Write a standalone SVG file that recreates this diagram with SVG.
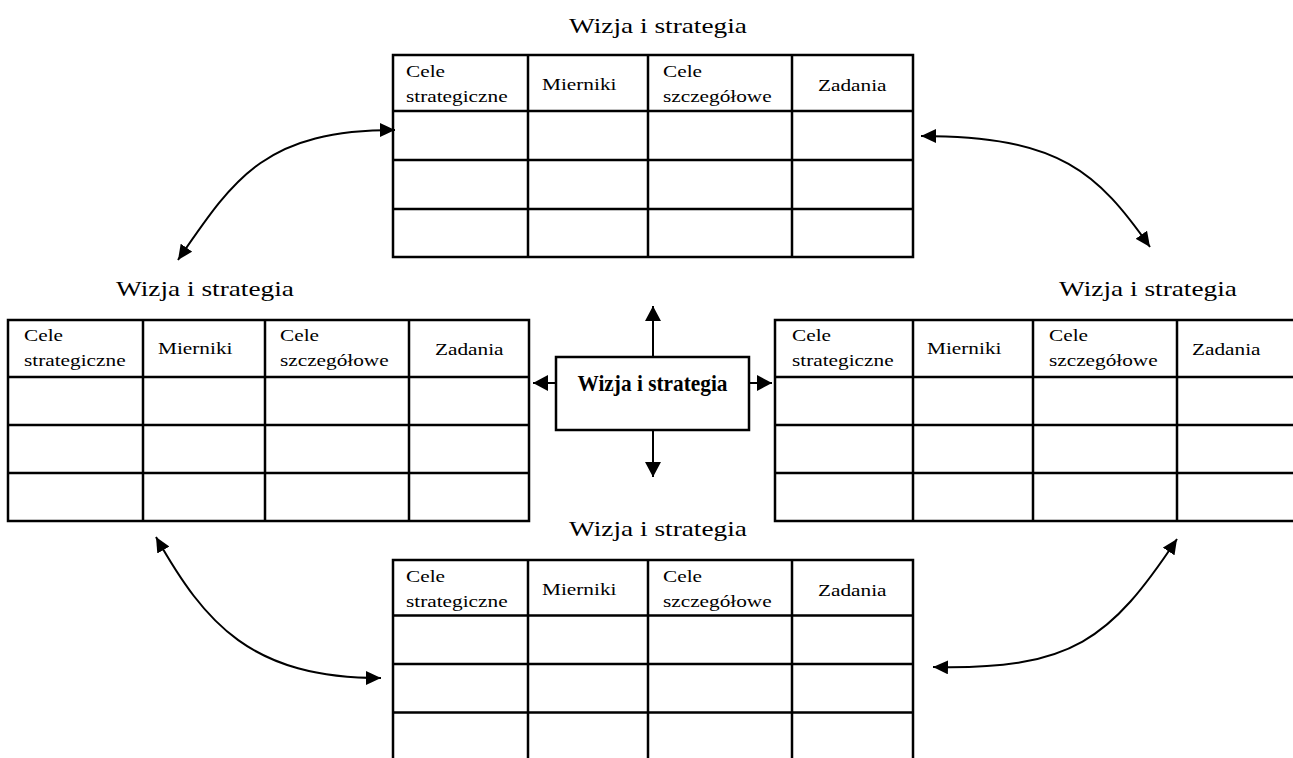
<svg xmlns="http://www.w3.org/2000/svg" width="1293" height="758" viewBox="0 0 1293 758">
<defs>
<style>
.t{font-family:"Liberation Serif","Times New Roman",serif;font-size:16.5px;fill:#000}
.ti{font-family:"Liberation Serif","Times New Roman",serif;font-size:20.5px;fill:#000}
.b{font-family:"Liberation Serif","Times New Roman",serif;font-size:22.5px;font-weight:bold;fill:#000}
.grid{fill:none;stroke:#000;stroke-width:2.5}
.box{fill:#fff;stroke:#000;stroke-width:2.5}
.con{fill:none;stroke:#000;stroke-width:2}
</style>
<marker id="ah" viewBox="0 0 15 14" refX="15" refY="7" markerWidth="15" markerHeight="14" markerUnits="userSpaceOnUse" orient="auto-start-reverse">
<path d="M0,0 L15,7 L0,14 Z" fill="#000"/>
</marker>
<marker id="ah2" viewBox="0 0 15 16" refX="15" refY="8" markerWidth="15" markerHeight="16" markerUnits="userSpaceOnUse" orient="auto">
<path d="M0,0 L15,8 L0,16 Z" fill="#000"/>
</marker>
</defs>
<rect width="1293" height="758" fill="#fff"/>

<g id="table-top">
<text class="ti" text-anchor="middle" transform="matrix(1.333,0,0,1,658,33)">Wizja i strategia</text>
<rect class="grid" x="393" y="55" width="520" height="202"/>
<path class="grid" d="M393,111H913M393,160H913M393,209H913M528,55V257M648,55V257M792,55V257"/>
<text class="t" transform="matrix(1.29,0,0,1,406,77)">Cele</text>
<text class="t" transform="matrix(1.29,0,0,1,406,102)">strategiczne</text>
<text class="t" transform="matrix(1.29,0,0,1,542,90)">Mierniki</text>
<text class="t" transform="matrix(1.29,0,0,1,663,77)">Cele</text>
<text class="t" transform="matrix(1.29,0,0,1,663,102)">szczegółowe</text>
<text class="t" transform="matrix(1.29,0,0,1,818,91)">Zadania</text>
</g>

<g id="table-left">
<text class="ti" text-anchor="middle" transform="matrix(1.333,0,0,1,205,296)">Wizja i strategia</text>
<rect class="grid" x="8" y="320" width="521" height="201"/>
<path class="grid" d="M8,377H529M8,425H529M8,473H529M143,320V521M265,320V521M409,320V521"/>
<text class="t" transform="matrix(1.29,0,0,1,24,341)">Cele</text>
<text class="t" transform="matrix(1.29,0,0,1,24,366)">strategiczne</text>
<text class="t" transform="matrix(1.29,0,0,1,158,354)">Mierniki</text>
<text class="t" transform="matrix(1.29,0,0,1,280,341)">Cele</text>
<text class="t" transform="matrix(1.29,0,0,1,280,366)">szczegółowe</text>
<text class="t" transform="matrix(1.29,0,0,1,435,355)">Zadania</text>
</g>

<g id="table-right">
<text class="ti" text-anchor="middle" transform="matrix(1.333,0,0,1,1148,296)">Wizja i strategia</text>
<rect class="grid" x="775" y="320" width="522" height="201"/>
<path class="grid" d="M775,377H1297M775,425H1297M775,473H1297M913,320V521M1033,320V521M1177,320V521"/>
<text class="t" transform="matrix(1.29,0,0,1,792,341)">Cele</text>
<text class="t" transform="matrix(1.29,0,0,1,792,366)">strategiczne</text>
<text class="t" transform="matrix(1.29,0,0,1,927,354)">Mierniki</text>
<text class="t" transform="matrix(1.29,0,0,1,1049,341)">Cele</text>
<text class="t" transform="matrix(1.29,0,0,1,1049,366)">szczegółowe</text>
<text class="t" transform="matrix(1.29,0,0,1,1192,355)">Zadania</text>
</g>

<g id="table-bottom">
<text class="ti" text-anchor="middle" transform="matrix(1.333,0,0,1,658,536)">Wizja i strategia</text>
<rect class="grid" x="393" y="560" width="520" height="204"/>
<path class="grid" d="M393,615.5H913M393,664H913M393,712.5H913M528,560V764M648,560V764M792,560V764"/>
<text class="t" transform="matrix(1.29,0,0,1,406,582)">Cele</text>
<text class="t" transform="matrix(1.29,0,0,1,406,607)">strategiczne</text>
<text class="t" transform="matrix(1.29,0,0,1,542,595)">Mierniki</text>
<text class="t" transform="matrix(1.29,0,0,1,663,582)">Cele</text>
<text class="t" transform="matrix(1.29,0,0,1,663,607)">szczegółowe</text>
<text class="t" transform="matrix(1.29,0,0,1,818,596)">Zadania</text>
</g>

<g id="center">
<rect class="box" x="556" y="357" width="193" height="73"/>
<text class="b" x="652.5" y="391" text-anchor="middle" textLength="150" lengthAdjust="spacingAndGlyphs">Wizja i strategia</text>
</g>

<g id="connectors">
<path class="con" d="M653,357V306" marker-end="url(#ah2)"/>
<path class="con" d="M653,430V477" marker-end="url(#ah2)"/>
<path class="con" d="M556,383H533" marker-end="url(#ah2)"/>
<path class="con" d="M749,383H772" marker-end="url(#ah2)"/>
<path class="con" d="M395,130C265,130 234.6,177.6 178,260" marker-start="url(#ah)" marker-end="url(#ah)"/>
<path class="con" d="M921,136C1061,136 1098,173.6 1150,247" marker-start="url(#ah)" marker-end="url(#ah)"/>
<path class="con" d="M156,537C205.3,624 251,678 381,678" marker-start="url(#ah)" marker-end="url(#ah)"/>
<path class="con" d="M933,667C1073,670 1110.4,638.8 1177,539" marker-start="url(#ah)" marker-end="url(#ah)"/>
</g>
</svg>
